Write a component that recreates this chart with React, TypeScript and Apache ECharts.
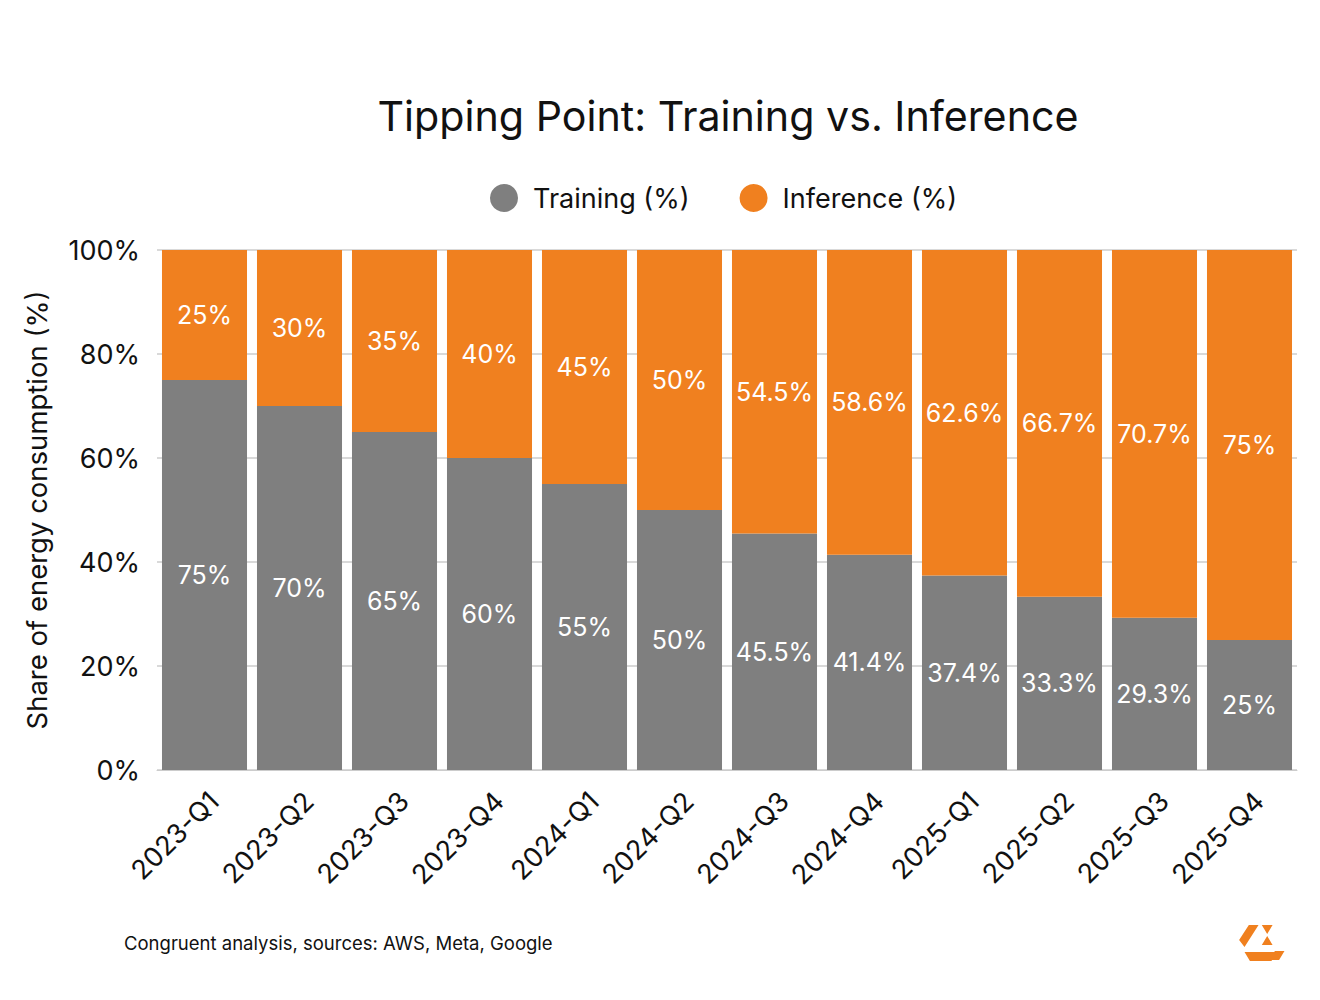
import React, { useEffect, useRef } from "react";
import * as echarts from "echarts";

const categories = [
  "2023-Q1", "2023-Q2", "2023-Q3", "2023-Q4",
  "2024-Q1", "2024-Q2", "2024-Q3", "2024-Q4",
  "2025-Q1", "2025-Q2", "2025-Q3", "2025-Q4",
];
const training = [75, 70, 65, 60, 55, 50, 45.5, 41.4, 37.4, 33.3, 29.3, 25];
const inference = [25, 30, 35, 40, 45, 50, 54.5, 58.6, 62.6, 66.7, 70.7, 75];
const yTicks = [0, 20, 40, 60, 80, 100];

const GRAY = "#7F7F7F";
const ORANGE = "#F0801F";
const FONT = "Inter, 'Noto Sans', sans-serif";

const LOGO_D =
  "M23 7 L32 7 L19 29 L14 22 Z " +
  "M35 7 L45 7 L40 16 Z " +
  "M40 18 L45 27 L35 27 Z " +
  "M19 34 L48 34 L44 43 L24 43 Z " +
  "M47 33 L56 33 L51 42 L44 42 Z";

echarts.graphic.registerShape("logo", echarts.graphic.extendPath(LOGO_D, {}) as any);

export default function App() {
  const ref = useRef<HTMLDivElement>(null);
  useEffect(() => {
    if (!ref.current) return;
    const chart = echarts.init(ref.current, null, { renderer: "svg" });
    const labelFmt = (p: any) => `${p.value}%`;
    chart.setOption({
      animation: false,
      backgroundColor: "#ffffff",
      textStyle: { fontFamily: FONT },
      title: {
        text: "Tipping Point: Training vs. Inference",
        left: 723,
        textAlign: "center",
        top: 90,
        textStyle: { fontFamily: FONT, fontSize: 41.2, fontWeight: "normal", color: "#111111" },
      },
      legend: {
        data: ["Training (%)", "Inference (%)"],
        top: 179,
        left: 485,
        icon: "circle",
        itemWidth: 28,
        itemHeight: 28,
        itemGap: 50,
        textStyle: { fontFamily: FONT, fontSize: 27, color: "#111111", padding: [0, 0, 0, 10] },
      },
      grid: { left: 157, right: 23, top: 250, bottom: 230, containLabel: false },
      xAxis: {
        type: "category",
        data: categories,
        axisTick: { show: false },
        axisLine: { show: true, lineStyle: { color: "#cccccc" } },
        axisLabel: {
          rotate: 45,
          interval: 0,
          margin: 17,
          verticalAlign: "top",
          fontSize: 27,
          fontFamily: FONT,
          color: "#111111",
        },
      },
      yAxis: {
        type: "value",
        min: yTicks[0],
        max: yTicks[yTicks.length - 1],
        interval: 20,
        name: "Share of energy consumption (%)",
        nameLocation: "middle",
        nameGap: 106,
        nameTextStyle: { fontFamily: FONT, fontSize: 27.5, color: "#111111" },
        axisLine: { show: false },
        axisTick: { show: false },
        axisLabel: {
          formatter: "{value}%",
          fontSize: 27,
          margin: 17,
          fontFamily: FONT,
          color: "#111111",
        },
        splitLine: { lineStyle: { color: "#cccccc", width: 1.5 } },
      },
      series: [
        {
          name: "Training (%)",
          type: "bar",
          stack: "total",
          data: training,
          barCategoryGap: "10.5%",
          itemStyle: { color: GRAY },
          label: { show: true, position: "inside", formatter: labelFmt, color: "#ffffff", fontSize: 25, fontFamily: FONT },
        },
        {
          name: "Inference (%)",
          type: "bar",
          stack: "total",
          data: inference,
          barCategoryGap: "10.5%",
          itemStyle: { color: ORANGE },
          label: { show: true, position: "inside", formatter: labelFmt, color: "#ffffff", fontSize: 25, fontFamily: FONT },
        },
      ],
      graphic: [
        {
          type: "text",
          left: 124,
          top: 933,
          style: {
            text: "Congruent analysis, sources: AWS, Meta, Google",
            fontSize: 18.5,
            fontFamily: FONT,
            fill: "#111111",
          },
        },
        {
          type: "logo",
          x: 1224,
          y: 918,
          scaleX: 1.08,
          scaleY: 1.0,
          style: { fill: ORANGE },
        },
      ],
    });
    return () => chart.dispose();
  }, []);
  return (
    <div
      ref={ref}
      style={{ position: "absolute", left: 0, top: 0, width: 1320, height: 1000 }}
    />
  );
}
